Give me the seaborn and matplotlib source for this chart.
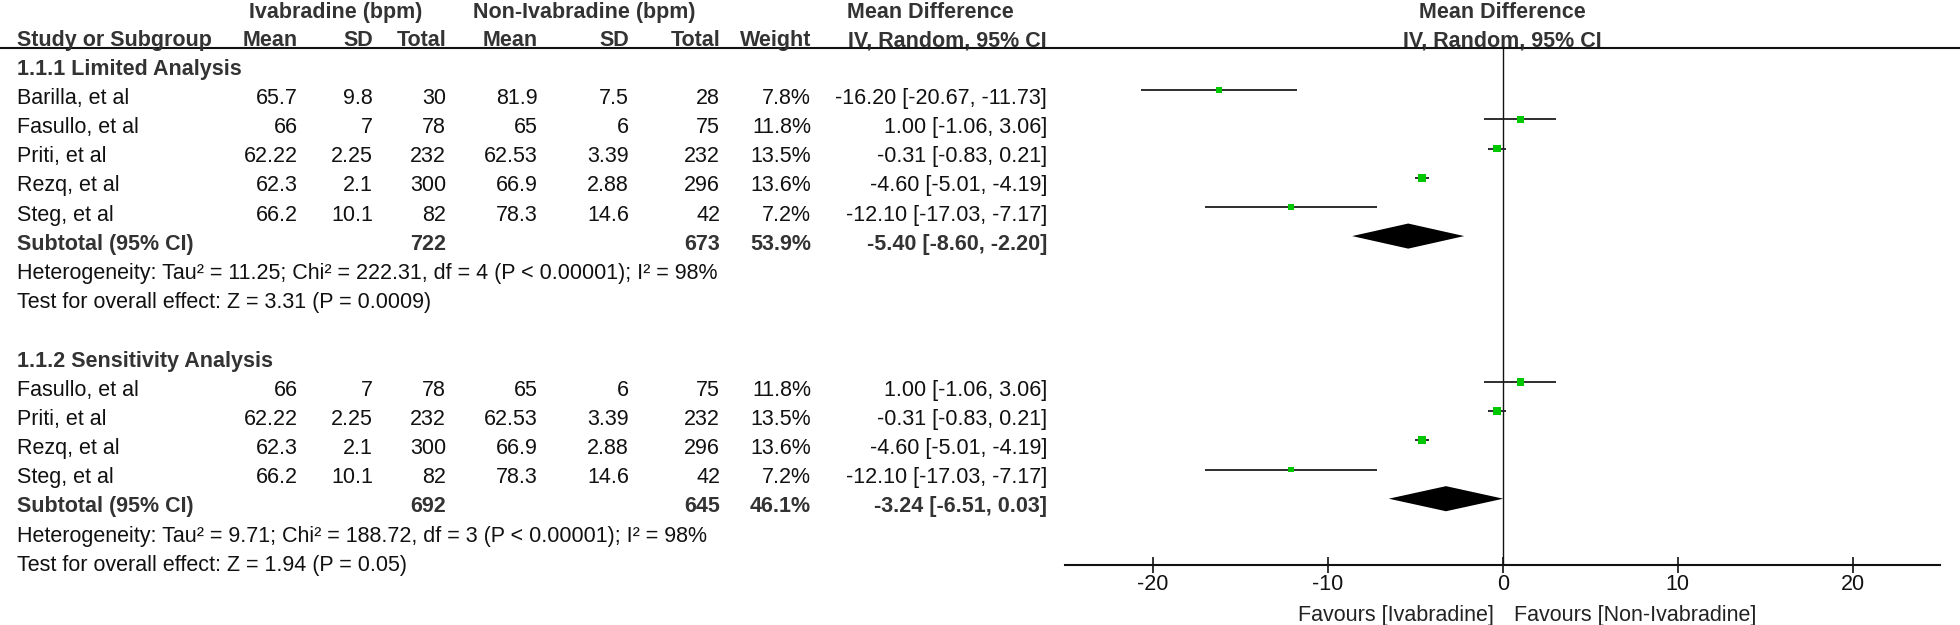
import numpy as np
import pandas as pd
import matplotlib
matplotlib.use("Agg")
import matplotlib.pyplot as plt
import seaborn as sns

# ---------------- data ----------------
group_titles = ["1.1.1 Limited Analysis", "1.1.2 Sensitivity Analysis"]

g1_study = ["Barilla, et al", "Fasullo, et al", "Priti, et al", "Rezq, et al", "Steg, et al"]
g1_iva_mean = [65.7, 66, 62.22, 62.3, 66.2]
g1_iva_sd = [9.8, 7, 2.25, 2.1, 10.1]
g1_iva_n = [30, 78, 232, 300, 82]
g1_non_mean = [81.9, 65, 62.53, 66.9, 78.3]
g1_non_sd = [7.5, 6, 3.39, 2.88, 14.6]
g1_non_n = [28, 75, 232, 296, 42]
g1_weight = [7.8, 11.8, 13.5, 13.6, 7.2]
g1_md = [-16.20, 1.00, -0.31, -4.60, -12.10]
g1_lo = [-20.67, -1.06, -0.83, -5.01, -17.03]
g1_hi = [-11.73, 3.06, 0.21, -4.19, -7.17]

g2_study = ["Fasullo, et al", "Priti, et al", "Rezq, et al", "Steg, et al"]
g2_iva_mean = [66, 62.22, 62.3, 66.2]
g2_iva_sd = [7, 2.25, 2.1, 10.1]
g2_iva_n = [78, 232, 300, 82]
g2_non_mean = [65, 62.53, 66.9, 78.3]
g2_non_sd = [6, 3.39, 2.88, 14.6]
g2_non_n = [75, 232, 296, 42]
g2_weight = [11.8, 13.5, 13.6, 7.2]
g2_md = [1.00, -0.31, -4.60, -12.10]
g2_lo = [-1.06, -0.83, -5.01, -17.03]
g2_hi = [3.06, 0.21, -4.19, -7.17]

sub_iva_n = [722, 692]
sub_non_n = [673, 645]
sub_weight = [53.9, 46.1]
sub_md = [-5.40, -3.24]
sub_lo = [-8.60, -6.51]
sub_hi = [-2.20, 0.03]

het_text = ["Heterogeneity: Tau² = 11.25; Chi² = 222.31, df = 4 (P < 0.00001); I² = 98%",
            "Heterogeneity: Tau² = 9.71; Chi² = 188.72, df = 3 (P < 0.00001); I² = 98%"]
test_text = ["Test for overall effect: Z = 3.31 (P = 0.0009)",
             "Test for overall effect: Z = 1.94 (P = 0.05)"]

x_ticks = [-20, -10, 0, 10, 20]
x_limits = (-25, 25)
favours_left = "Favours [Ivabradine]"
favours_right = "Favours [Non-Ivabradine]"

# ---------------- build table ----------------
group_start = [0, 10]
frames = []
for gi, (st, a, b, c, d, e, f, w, m, lo, hi) in enumerate([
        (g1_study, g1_iva_mean, g1_iva_sd, g1_iva_n, g1_non_mean, g1_non_sd, g1_non_n, g1_weight, g1_md, g1_lo, g1_hi),
        (g2_study, g2_iva_mean, g2_iva_sd, g2_iva_n, g2_non_mean, g2_non_sd, g2_non_n, g2_weight, g2_md, g2_lo, g2_hi)]):
    frames.append(pd.DataFrame({
        "study": st, "iva_mean": a, "iva_sd": b, "iva_n": c,
        "non_mean": d, "non_sd": e, "non_n": f, "weight": w,
        "md": m, "lo": lo, "hi": hi,
        "row": [group_start[gi] + 1 + k for k in range(len(st))],
    }))
df = pd.concat(frames, ignore_index=True)
sub = pd.DataFrame({"iva_n": sub_iva_n, "non_n": sub_non_n, "weight": sub_weight,
                    "md": sub_md, "lo": sub_lo, "hi": sub_hi,
                    "row": [group_start[0] + 1 + len(g1_study), group_start[1] + 1 + len(g2_study)]})

# ---------------- figure ----------------
sns.set_theme(style="white")
plt.rcParams["font.family"] = ["Liberation Sans", "DejaVu Sans"]
plt.rcParams["axes.unicode_minus"] = False

W, H = 1960, 625
fig = plt.figure(figsize=(W / 100, H / 100), dpi=100)

ROW0, ROWH = 67.0, 29.18
FS = 15.5
CAP = 0.358 * FS * 100 / 72
TXT = "#111111"
BLD = "#333333"

def ytext(r):
    return ROW0 + ROWH * r

ov = fig.add_axes([0, 0, 1, 1])
ov.set_xlim(0, W)
ov.set_ylim(H, 0)
ov.axis("off")
ov.patch.set_visible(False)

def put(x, yc, s, ha="right", bold=False, color=None):
    ov.text(x, yc + CAP, s, ha=ha, va="baseline", fontsize=FS,
            fontweight="bold" if bold else "normal",
            color=color or (BLD if bold else TXT))

# column right edges
C_STUDY = 17
C_IM, C_ISD, C_IN = 298, 373, 446
C_NM, C_NSD, C_NN = 538, 629, 720
C_W, C_CI = 811, 1047
X0 = 1502.7

# headers
put(336, 10, "Ivabradine (bpm)", ha="center", bold=True)
put(584, 10, "Non-Ivabradine (bpm)", ha="center", bold=True)
put(930, 10, "Mean Difference", ha="center", bold=True)
put(X0, 10, "Mean Difference", ha="center", bold=True)
hy = 38.5
put(C_STUDY, hy, "Study or Subgroup", ha="left", bold=True)
put(C_IM, hy, "Mean", bold=True)
put(C_ISD, hy, "SD", bold=True)
put(C_IN, hy, "Total", bold=True)
put(C_NM, hy, "Mean", bold=True)
put(C_NSD, hy, "SD", bold=True)
put(C_NN, hy, "Total", bold=True)
put(C_W, hy, "Weight", bold=True)
put(C_CI, hy, "IV, Random, 95% CI", bold=True)
put(X0, hy, "IV, Random, 95% CI", ha="center", bold=True)
ov.plot([0, W], [48, 48], color="#111111", lw=1.5, solid_capstyle="butt")

# study rows
for _, r in df.iterrows():
    y = ytext(r["row"])
    put(C_STUDY, y, r["study"], ha="left")
    put(C_IM, y, f"{r['iva_mean']:g}")
    put(C_ISD, y, f"{r['iva_sd']:g}")
    put(C_IN, y, f"{int(r['iva_n'])}")
    put(C_NM, y, f"{r['non_mean']:g}")
    put(C_NSD, y, f"{r['non_sd']:g}")
    put(C_NN, y, f"{int(r['non_n'])}")
    put(C_W, y, f"{r['weight']:.1f}%")
    put(C_CI, y, f"{r['md']:.2f} [{r['lo']:.2f}, {r['hi']:.2f}]")

for gi in range(2):
    put(C_STUDY, ytext(group_start[gi]), group_titles[gi], ha="left", bold=True)
    s = sub.iloc[gi]
    y = ytext(s["row"])
    put(C_STUDY, y, "Subtotal (95% CI)", ha="left", bold=True)
    put(C_IN, y, f"{int(s['iva_n'])}", bold=True)
    put(C_NN, y, f"{int(s['non_n'])}", bold=True)
    put(C_W, y, f"{s['weight']:.1f}%", bold=True)
    put(C_CI, y, f"{s['md']:.2f} [{s['lo']:.2f}, {s['hi']:.2f}]", bold=True)
    put(C_STUDY, ytext(s["row"] + 1), het_text[gi], ha="left")
    put(C_STUDY, ytext(s["row"] + 2), test_text[gi], ha="left")

put(1494, 613, favours_left, ha="right", color="#222222")
put(1514, 613, favours_right, ha="left", color="#222222")

# ---------------- forest panel ----------------
MARK0 = 61.0
ax_top, ax_bot = 48, 565
ax_l = X0 - 25 * 17.5
fx = fig.add_axes([ax_l / W, (H - ax_bot) / H, 50 * 17.5 / W, (ax_bot - ax_top) / H])
fx.patch.set_visible(False)

fx.hlines(df["row"], df["lo"], df["hi"], color="#1e1e1e", lw=1.3, zorder=2)
sns.scatterplot(data=df, x="md", y="row", size="weight", sizes=(0, 2.3 * 15),
                size_norm=(0, 15), marker="s", color="#00c800", linewidth=0,
                legend=False, ax=fx, zorder=3)
for _, s in sub.iterrows():
    h = 0.43
    fx.fill([s["lo"], s["md"], s["hi"], s["md"]],
            [s["row"], s["row"] - h, s["row"], s["row"] + h],
            color="black", lw=0, zorder=3)
fx.axvline(0, color="#111111", lw=1.0, zorder=1)

fx.set_xlim(*x_limits)
fx.set_ylim((ax_bot - MARK0) / ROWH, (ax_top - MARK0) / ROWH)
fx.set_xlabel("")
fx.set_ylabel("")
fx.set_yticks([])
fx.set_xticks(x_ticks)
fx.set_xticklabels([str(t) for t in x_ticks])
for side in ["top", "left", "right"]:
    fx.spines[side].set_visible(False)
fx.spines["bottom"].set_color("#111111")
fx.spines["bottom"].set_linewidth(1.5)
fx.tick_params(axis="x", bottom=True, direction="inout", length=11.5, width=1.2,
               pad=1, labelsize=FS, colors="#111111")

fig.savefig("out.png", dpi=100)
